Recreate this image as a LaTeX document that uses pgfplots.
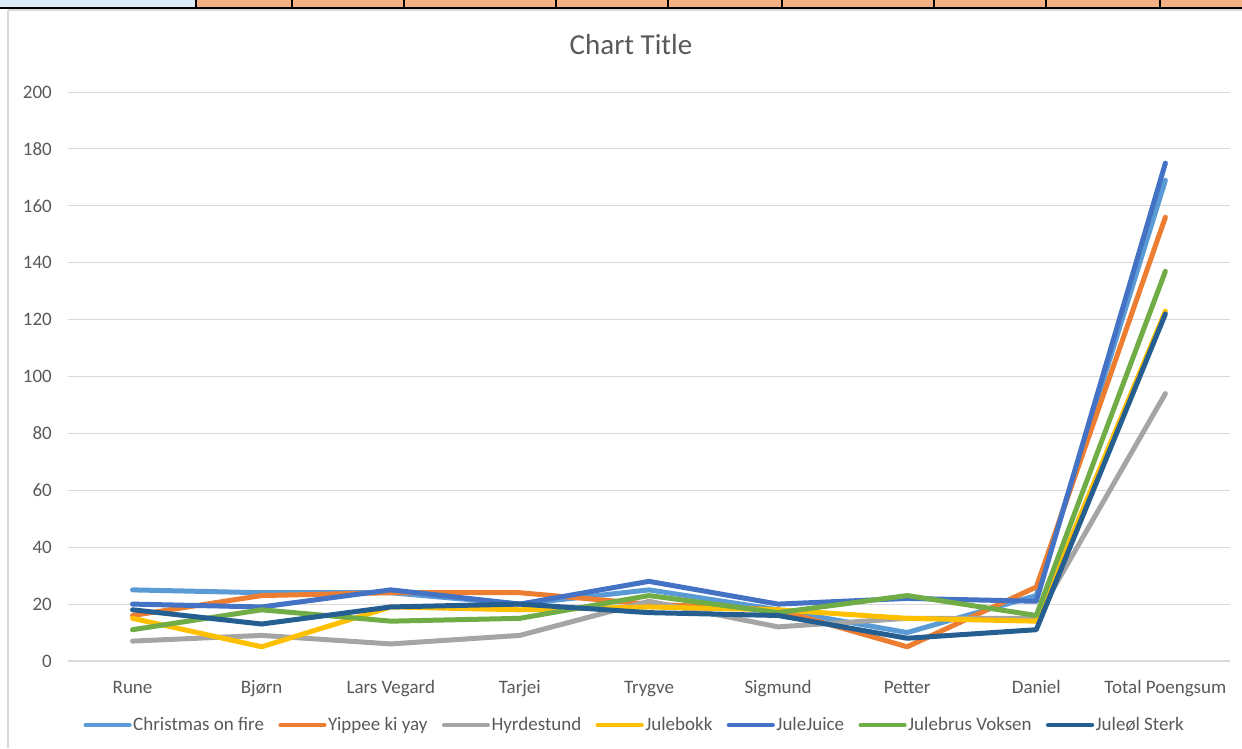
\documentclass[border=0pt]{standalone}
\usepackage{fontspec}
\setmainfont{Carlito}
\usepackage{pgfplots}
\pgfplotsset{compat=1.18}

\definecolor{cof}{HTML}{5B9BD5}
\definecolor{yip}{HTML}{ED7D31}
\definecolor{hyr}{HTML}{A5A5A5}
\definecolor{bok}{HTML}{FFC000}
\definecolor{jju}{HTML}{4472C4}
\definecolor{jbr}{HTML}{70AD47}
\definecolor{jol}{HTML}{255E91}
\definecolor{gridc}{HTML}{D9D9D9}
\definecolor{labc}{HTML}{595959}
\definecolor{cellorange}{HTML}{F4B183}
\definecolor{cellblue}{HTML}{DDEBF7}

\begin{document}
\begin{tikzpicture}[x=1pt,y=1pt]
\useasboundingbox (-68,-87) rectangle (1174,661);
% bit of the worksheet above the chart
\fill[cellblue] (-68,653) rectangle (128,661);
\fill[cellorange] (128,653) rectangle (1174,661);
\foreach \c in {128,224,336,488,600,714,866,978,1092}
  \draw[black, line width=1.2pt] (\c,653) -- (\c,661);
\draw[black, line width=2pt] (-68,653) -- (1174,653);
\draw[gridc, line width=1.5pt] (-60,651) -- (1174,651);
\draw[gridc, line width=1.2pt] (-60,651) -- (-60,-87);

\begin{axis}[
  scale only axis,
  width=1162pt, height=569pt,
  xmin=-0.5, xmax=8.5,
  ymin=0, ymax=200,
  ytick={0,20,...,200},
  xtick={0,...,8},
  xticklabels={Rune,Bjørn,Lars Vegard,Tarjei,Trygve,Sigmund,Petter,Daniel,Total Poengsum},
  axis x line=bottom, axis y line=left,
  axis line style={-},
  x axis line style={draw=gridc, line width=1.5pt},
  y axis line style={draw=none},
  major tick length=0pt,
  ymajorgrids,
  grid style={draw=gridc, line width=1pt},
  tick label style={font=\fontsize{19}{21}\selectfont, text=labc},
  /pgf/number format/assume math mode=true,
  yticklabel style={inner xsep=0pt, xshift=-16pt},
  xticklabel style={anchor=base, inner sep=0pt, yshift=-32pt},
  legend columns=-1,
  legend style={draw=none, fill=none, at={(0.4875,-0.1125)}, anchor=center,
    font=\fontsize{19}{21}\selectfont, text=labc, inner sep=0pt,
    nodes={inner xsep=1.5pt},
    /tikz/every even column/.append style={column sep=12.8pt}},
  legend image code/.code={\draw[#1, line width=4.2pt] (0pt,0pt) -- (44pt,0pt);},
  every axis plot/.append style={line width=5pt, line join=round, line cap=round, no markers},
]
\addplot[cof] coordinates {(0,25) (1,24) (2,24) (3,20) (4,25) (5,18) (6,10) (7,23) (8,169)};
\addlegendentry{Christmas on fire}
\addplot[yip] coordinates {(0,16) (1,23) (2,24) (3,24) (4,20) (5,18) (6,5) (7,26) (8,156)};
\addlegendentry{Yippee ki yay}
\addplot[hyr] coordinates {(0,7) (1,9) (2,6) (3,9) (4,21) (5,12) (6,15) (7,15) (8,94)};
\addlegendentry{Hyrdestund}
\addplot[bok] coordinates {(0,15) (1,5) (2,19) (3,18) (4,19) (5,18) (6,15) (7,14) (8,123)};
\addlegendentry{Julebokk}
\addplot[jju] coordinates {(0,20) (1,19) (2,25) (3,20) (4,28) (5,20) (6,22) (7,21) (8,175)};
\addlegendentry{JuleJuice}
\addplot[jbr] coordinates {(0,11) (1,18) (2,14) (3,15) (4,23) (5,17) (6,23) (7,16) (8,137)};
\addlegendentry{Julebrus Voksen}
\addplot[jol] coordinates {(0,18) (1,13) (2,19) (3,20) (4,17) (5,16) (6,8) (7,11) (8,122)};
\addlegendentry{Juleøl Sterk}
\end{axis}
\node[anchor=base, text=labc, font=\fontsize{29}{31}\selectfont] at (563,606) {Chart Title};
\end{tikzpicture}
\end{document}
